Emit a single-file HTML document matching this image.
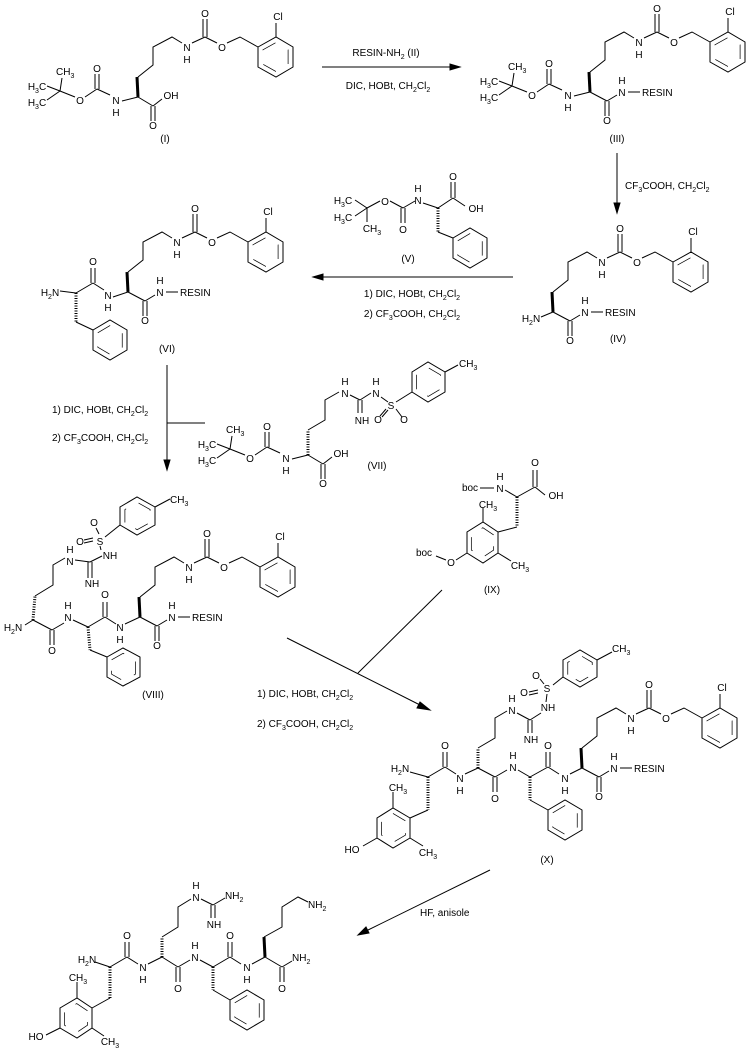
<!DOCTYPE html>
<html><head><meta charset="utf-8"><style>
html,body{margin:0;padding:0;background:#fff;}
svg{display:block}
svg path,svg polygon,svg line{stroke:#000;fill:none;stroke-width:1}
svg text{font-family:"Liberation Sans",sans-serif;font-size:10px;fill:#000;stroke:none;text-anchor:middle}
svg text.s{text-anchor:start}
.h{stroke-dasharray:1 1.5;stroke-width:3}
.w{stroke-width:3}
.in{stroke-dasharray:20 20}
.ah{fill:#000}
</style></head><body>
<svg width="754" height="1051" viewBox="0 0 754 1051" xmlns="http://www.w3.org/2000/svg">

<!-- ===== (I) ===== -->
<g transform="translate(138,97)">
 <path class="w" d="M0,0L-1,-20"/>
 <path d="M0,-20L15,-32L15,-50L34,-60L44,-54M54,-54L67,-60M65,-60V-78M69,-60V-78M67,-60L79,-54M89,-54L102,-60L120,-50M138,-60V-74"/>
 <polygon points="120,-50 138,-60 155,-50 155,-30 138,-20 120,-30"/>
 <polygon class="in" points="120,-50 138,-60 155,-50 155,-30 138,-20 120,-30" transform="translate(137.5,-40) scale(.72) translate(-137.5,40)"/>
 <text x="49" y="-46">N</text><text x="49" y="-34">H</text><text x="67" y="-80">O</text><text x="84" y="-46">O</text><text x="140" y="-77">Cl</text>
 <!-- boc -->
 <path d="M0,0L-16,4M-28,-2L-41,-8M-43,-8V-23M-39,-8V-23M-41,-8L-53,0M-63,0L-78,-6L-76,-19M-78,-6L-91,-11M-78,-6L-91,3"/>
 <text x="-22" y="7">N</text><text x="-22" y="19">H</text><text x="-41" y="-25">O</text><text x="-58" y="7">O</text>
 <text class="s" x="-82" y="-22">CH<tspan font-size="7" dy="3">3</tspan></text>
 <text x="-101" y="-7">H<tspan font-size="7" dy="3">3</tspan><tspan dy="-3">C</tspan></text>
 <text x="-101" y="9">H<tspan font-size="7" dy="3">3</tspan><tspan dy="-3">C</tspan></text>
 <!-- COOH -->
 <path d="M0,0L15,9M13,9V24M17,9V24M15,9L24,2"/>
 <text x="15" y="32">O</text><text x="33" y="2">OH</text>
</g>
<text x="165" y="142">(I)</text>

<!-- arrow I->III -->
<path d="M322,67H452"/><polygon class="ah" points="460,67 450,64 450,70"/>
<text x="386" y="56">RESIN-NH<tspan font-size="7" dy="3">2</tspan><tspan dy="-3"> (II)</tspan></text>
<text x="388" y="89">DIC, HOBt, CH<tspan font-size="7" dy="3">2</tspan><tspan dy="-3">Cl</tspan><tspan font-size="7" dy="3">2</tspan></text>

<!-- ===== (III) ===== -->
<g transform="translate(590,92)">
 <path class="w" d="M0,0L-1,-20"/>
 <path d="M0,-20L15,-32L15,-50L34,-60L44,-54M54,-54L67,-60M65,-60V-78M69,-60V-78M67,-60L79,-54M89,-54L102,-60L120,-50M138,-60V-74"/>
 <polygon points="120,-50 138,-60 155,-50 155,-30 138,-20 120,-30"/>
 <polygon class="in" points="120,-50 138,-60 155,-50 155,-30 138,-20 120,-30" transform="translate(137.5,-40) scale(.72) translate(-137.5,40)"/>
 <text x="49" y="-46">N</text><text x="49" y="-34">H</text><text x="67" y="-80">O</text><text x="84" y="-46">O</text><text x="140" y="-77">Cl</text>
 <path d="M0,0L-16,4M-28,-2L-41,-8M-43,-8V-23M-39,-8V-23M-41,-8L-53,0M-63,0L-78,-6L-76,-19M-78,-6L-91,-11M-78,-6L-91,3"/>
 <text x="-22" y="7">N</text><text x="-22" y="19">H</text><text x="-41" y="-25">O</text><text x="-58" y="7">O</text>
 <text class="s" x="-82" y="-22">CH<tspan font-size="7" dy="3">3</tspan></text>
 <text x="-101" y="-7">H<tspan font-size="7" dy="3">3</tspan><tspan dy="-3">C</tspan></text>
 <text x="-101" y="9">H<tspan font-size="7" dy="3">3</tspan><tspan dy="-3">C</tspan></text>
 <path d="M0,0L17,9M15,9V24M19,9V24M17,9L27,3M38,0H50"/>
 <text x="17" y="32">O</text><text x="32" y="4">N</text><text x="32" y="-8">H</text>
 <text class="s" x="52" y="4">RESIN</text>
</g>
<text x="617" y="142">(III)</text>

<!-- arrow III->IV -->
<path d="M617,153V205"/><polygon class="ah" points="617,213 614,203 620,203"/>
<text class="s" x="625" y="189">CF<tspan font-size="7" dy="3">3</tspan><tspan dy="-3">COOH, CH</tspan><tspan font-size="7" dy="3">2</tspan><tspan dy="-3">Cl</tspan><tspan font-size="7" dy="3">2</tspan></text>

<!-- ===== (IV) ===== -->
<g transform="translate(553,312)">
 <path class="w" d="M0,0L-1,-20"/>
 <path d="M0,-20L15,-32L15,-50L34,-60L44,-54M54,-54L67,-60M65,-60V-78M69,-60V-78M67,-60L79,-54M89,-54L102,-60L120,-50M138,-60V-74"/>
 <polygon points="120,-50 138,-60 155,-50 155,-30 138,-20 120,-30"/>
 <polygon class="in" points="120,-50 138,-60 155,-50 155,-30 138,-20 120,-30" transform="translate(137.5,-40) scale(.72) translate(-137.5,40)"/>
 <text x="49" y="-46">N</text><text x="49" y="-34">H</text><text x="67" y="-80">O</text><text x="84" y="-46">O</text><text x="140" y="-77">Cl</text>
 <path d="M0,0L-12,5M0,0L17,9M15,9V24M19,9V24M17,9L27,3M38,0H50"/>
 <text x="17" y="32">O</text><text x="32" y="4">N</text><text x="32" y="-8">H</text>
 <text class="s" x="52" y="4">RESIN</text>
 <text x="-22" y="10">H<tspan font-size="7" dy="3">2</tspan><tspan dy="-3">N</tspan></text>
</g>
<text x="618" y="342">(IV)</text>

<!-- ===== (V) ===== -->
<path d="M367,208L355,200M367,208L355,216M367,208V222M367,208L380,201M390,201L403,208M401,208V223M405,208V223M403,208L415,201M423,203L438,208M438,208L453,198M451,198V182M455,198V182M453,198L465,206M438,232L453,238"/>
<path class="h" d="M438,208V232"/>
<polygon points="453,238 470,228 487,238 487,258 470,268 453,258"/>
<polygon class="in" points="453,238 470,228 487,238 487,258 470,268 453,258" transform="translate(470,248) scale(.72) translate(-470,-248)"/>
<text x="343" y="204">H<tspan font-size="7" dy="3">3</tspan><tspan dy="-3">C</tspan></text>
<text x="343" y="221">H<tspan font-size="7" dy="3">3</tspan><tspan dy="-3">C</tspan></text>
<text x="372" y="232">CH<tspan font-size="7" dy="3">3</tspan></text>
<text x="385" y="205">O</text><text x="403" y="233">O</text><text x="418" y="204">N</text><text x="418" y="192">H</text>
<text x="453" y="180">O</text><text x="476" y="212">OH</text>
<text x="408" y="262">(V)</text>

<!-- arrow IV->VI -->
<path d="M321,277H513"/><polygon class="ah" points="313,277 323,274 323,280"/>
<text x="412" y="297">1) DIC, HOBt, CH<tspan font-size="7" dy="3">2</tspan><tspan dy="-3">Cl</tspan><tspan font-size="7" dy="3">2</tspan></text>
<text x="412" y="317">2) CF<tspan font-size="7" dy="3">3</tspan><tspan dy="-3">COOH, CH</tspan><tspan font-size="7" dy="3">2</tspan><tspan dy="-3">Cl</tspan><tspan font-size="7" dy="3">2</tspan></text>

<!-- ===== (VI) ===== -->
<g transform="translate(128,292)">
 <path class="w" d="M0,0L-1,-20"/>
 <path d="M0,-20L15,-32L15,-50L34,-60L44,-54M54,-54L67,-60M65,-60V-78M69,-60V-78M67,-60L79,-54M89,-54L102,-60L120,-50M138,-60V-74"/>
 <polygon points="120,-50 138,-60 155,-50 155,-30 138,-20 120,-30"/>
 <polygon class="in" points="120,-50 138,-60 155,-50 155,-30 138,-20 120,-30" transform="translate(137.5,-40) scale(.72) translate(-137.5,40)"/>
 <text x="49" y="-46">N</text><text x="49" y="-34">H</text><text x="67" y="-80">O</text><text x="84" y="-46">O</text><text x="140" y="-77">Cl</text>
 <path d="M0,0L17,9M15,9V24M19,9V24M17,9L27,3M38,0H50"/>
 <text x="17" y="32">O</text><text x="32" y="4">N</text><text x="32" y="-8">H</text>
 <text class="s" x="52" y="4">RESIN</text>
</g>
<path d="M60,291L76,293M76,293L93,283M91,283V268M95,283V268M93,283L104,290M113,297L128,292M76,322L93,330"/>
<path class="h" d="M76,293V322"/>
<polygon points="93,330 110,320 127,330 127,350 110,360 93,350"/>
<polygon class="in" points="93,330 110,320 127,330 127,350 110,360 93,350" transform="translate(110,340) scale(.72) translate(-110,-340)"/>
<text x="50" y="296">H<tspan font-size="7" dy="3">2</tspan><tspan dy="-3">N</tspan></text>
<text x="93" y="265">O</text><text x="108" y="299">N</text><text x="108" y="311">H</text>
<text x="167" y="352">(VI)</text>

<!-- arrow VI->VIII -->
<path d="M167,365V462M167,423H205"/><polygon class="ah" points="167,470 164,460 170,460"/>
<text class="s" x="52" y="413">1) DIC, HOBt, CH<tspan font-size="7" dy="3">2</tspan><tspan dy="-3">Cl</tspan><tspan font-size="7" dy="3">2</tspan></text>
<text class="s" x="52" y="441">2) CF<tspan font-size="7" dy="3">3</tspan><tspan dy="-3">COOH, CH</tspan><tspan font-size="7" dy="3">2</tspan><tspan dy="-3">Cl</tspan><tspan font-size="7" dy="3">2</tspan></text>

<!-- ===== (VII) ===== -->
<g transform="translate(308,455)">
 <path d="M0,0L-16,4M-28,-2L-41,-8M-43,-8V-23M-39,-8V-23M-41,-8L-53,0M-63,0L-78,-6L-76,-19M-78,-6L-91,-11M-78,-6L-91,3"/>
 <text x="-22" y="7">N</text><text x="-22" y="19">H</text><text x="-41" y="-25">O</text><text x="-58" y="7">O</text>
 <text class="s" x="-82" y="-22">CH<tspan font-size="7" dy="3">3</tspan></text>
 <text x="-101" y="-7">H<tspan font-size="7" dy="3">3</tspan><tspan dy="-3">C</tspan></text>
 <text x="-101" y="9">H<tspan font-size="7" dy="3">3</tspan><tspan dy="-3">C</tspan></text>
 <path d="M0,0L15,9M13,9V24M17,9V24M15,9L24,2"/>
 <text x="15" y="32">O</text><text x="33" y="2">OH</text>
 <path class="h" d="M0,0V-25"/>
 <path d="M0,-25L17,-35L17,-55L31,-63M42,-60L52,-55M50,-55V-42M54,-55V-42M52,-55L63,-62M73,-58L80,-53M78,-46L72,-39M80,-45L74,-38M88,-46L94,-38M88,-53L104,-63M137,-83L150,-90"/>
 <text x="37" y="-58">N</text><text x="37" y="-70">H</text>
 <text x="54" y="-31">NH</text>
 <text x="68" y="-58">N</text><text x="68" y="-70">H</text>
 <text x="83" y="-46">S</text><text x="70" y="-32">O</text><text x="96" y="-32">O</text>
 <polygon points="104,-63 104,-83 120,-93 137,-83 137,-63 120,-53"/>
 <polygon class="in" points="104,-63 104,-83 120,-93 137,-83 137,-63 120,-53" transform="translate(120.5,-73) scale(.72) translate(-120.5,73)"/>
 <text class="s" x="151" y="-88">CH<tspan font-size="7" dy="3">3</tspan></text>
</g>
<text x="377" y="469">(VII)</text>

<!-- ===== (IX) ===== -->
<path d="M480,488H494M505,490L517,497M517,497L535,487M533,487V470M537,487V470M535,487L545,495M517,527L498,532M483,522V508M498,553L511,561M467,553L456,560M446,560L436,556"/>
<path class="h" d="M517,497V527"/>
<polygon points="498,532 483,522 467,532 467,553 483,563 498,553"/>
<polygon class="in" points="498,532 483,522 467,532 467,553 483,563 498,553" transform="translate(482.5,542.5) scale(.72) translate(-482.5,-542.5)"/>
<text x="470" y="491">boc</text><text x="500" y="492">N</text><text x="500" y="480">H</text>
<text x="535" y="466">O</text><text x="556" y="499">OH</text>
<text x="488" y="508">CH<tspan font-size="7" dy="3">3</tspan></text>
<text x="520" y="569">CH<tspan font-size="7" dy="3">3</tspan></text>
<text x="451" y="566">O</text><text x="424" y="556">boc</text>
<text x="492" y="593">(IX)</text>

<!-- ===== (VIII) ===== -->
<g transform="translate(140,617)">
 <path class="w" d="M0,0L-1,-20"/>
 <path d="M0,-20L15,-32L15,-50L34,-60L44,-54M54,-54L67,-60M65,-60V-78M69,-60V-78M67,-60L79,-54M89,-54L102,-60L120,-50M138,-60V-74"/>
 <polygon points="120,-50 138,-60 155,-50 155,-30 138,-20 120,-30"/>
 <polygon class="in" points="120,-50 138,-60 155,-50 155,-30 138,-20 120,-30" transform="translate(137.5,-40) scale(.72) translate(-137.5,40)"/>
 <text x="49" y="-46">N</text><text x="49" y="-34">H</text><text x="67" y="-80">O</text><text x="84" y="-46">O</text><text x="140" y="-77">Cl</text>
 <path d="M0,0L17,9M15,9V24M19,9V24M17,9L27,3M38,0H50"/>
 <text x="17" y="32">O</text><text x="32" y="4">N</text><text x="32" y="-8">H</text>
 <text class="s" x="52" y="4">RESIN</text>
</g>
<path d="M25,625L33,620M33,620L52,630M50,630V645M54,630V645M52,630L64,623M73,620L88,627M88,627L105,617M103,617V602M107,617V602M105,617L116,624M125,624L140,617M90,650L107,657"/>
<path class="h" d="M88,627L90,650M33,620L35,596"/>
<polygon points="107,657 123,648 140,657 140,677 123,686 107,677"/>
<polygon class="in" points="107,657 123,648 140,657 140,677 123,686 107,677" transform="translate(123.5,667) scale(.72) translate(-123.5,-667)"/>
<path d="M35,596L53,585L53,565L65,558M75,560L90,562M88,562V578M92,562V578M90,562L102,556M101,550L100,546M93,538L84,540M93,541L84,543M99,534L96,528M105,537L120,525M155,507L170,499"/>
<polygon points="120,525 120,507 137,497 155,507 155,525 137,535"/>
<polygon class="in" points="120,525 120,507 137,497 155,507 155,525 137,535" transform="translate(137.5,516) scale(.72) translate(-137.5,-516)"/>
<text x="13" y="631">H<tspan font-size="7" dy="3">2</tspan><tspan dy="-3">N</tspan></text>
<text x="52" y="654">O</text><text x="68" y="621">N</text><text x="68" y="609">H</text>
<text x="105" y="598">O</text><text x="120" y="631">N</text><text x="120" y="643">H</text>
<text x="70" y="565">N</text><text x="70" y="553">H</text>
<text x="92" y="587">NH</text><text x="110" y="559">NH</text>
<text x="100" y="545">S</text><text x="80" y="545">O</text><text x="94" y="526">O</text>
<text class="s" x="170" y="503">CH<tspan font-size="7" dy="3">3</tspan></text>
<text x="153" y="698">(VIII)</text>

<!-- arrow VIII+IX -> X -->
<path d="M287,638L422,706M358,673L442,590"/><polygon class="ah" points="430,710 420,702 417,708"/>
<text class="s" x="257" y="697">1) DIC, HOBt, CH<tspan font-size="7" dy="3">2</tspan><tspan dy="-3">Cl</tspan><tspan font-size="7" dy="3">2</tspan></text>
<text class="s" x="257" y="727">2) CF<tspan font-size="7" dy="3">3</tspan><tspan dy="-3">COOH, CH</tspan><tspan font-size="7" dy="3">2</tspan><tspan dy="-3">Cl</tspan><tspan font-size="7" dy="3">2</tspan></text>

<!-- ===== (X) ===== -->
<g transform="translate(582,768)">
 <path class="w" d="M0,0L-1,-20"/>
 <path d="M0,-20L15,-32L15,-50L34,-60L44,-54M54,-54L67,-60M65,-60V-78M69,-60V-78M67,-60L79,-54M89,-54L102,-60L120,-50M138,-60V-74"/>
 <polygon points="120,-50 138,-60 155,-50 155,-30 138,-20 120,-30"/>
 <polygon class="in" points="120,-50 138,-60 155,-50 155,-30 138,-20 120,-30" transform="translate(137.5,-40) scale(.72) translate(-137.5,40)"/>
 <text x="49" y="-46">N</text><text x="49" y="-34">H</text><text x="67" y="-80">O</text><text x="84" y="-46">O</text><text x="140" y="-77">Cl</text>
 <path d="M0,0L17,9M15,9V24M19,9V24M17,9L27,3M38,0H50"/>
 <text x="17" y="32">O</text><text x="32" y="4">N</text><text x="32" y="-8">H</text>
 <text class="s" x="52" y="4">RESIN</text>
</g>
<path d="M410,772L428,777M428,777L445,767M443,767V752M447,767V752M445,767L456,774M465,774L478,768M478,768L495,777M493,777V792M497,777V792M495,777L507,770M518,770L530,777M530,777L548,767M546,767V752M550,767V752M548,767L559,774M570,774L582,768M530,800L548,810M428,810L410,818M393,808V792M410,838L423,846M377,838L363,846"/>
<path class="h" d="M530,777V800M428,777V810M478,768V748"/>
<polygon points="548,810 565,800 582,810 582,830 565,840 548,830"/>
<polygon class="in" points="548,810 565,800 582,810 582,830 565,840 548,830" transform="translate(565,820) scale(.72) translate(-565,-820)"/>
<polygon points="410,818 393,808 377,818 377,838 393,848 410,838"/>
<polygon class="in" points="410,818 393,808 377,818 377,838 393,848 410,838" transform="translate(393.5,828) scale(.72) translate(-393.5,-828)"/>
<path d="M478,748L495,738L495,718L507,711M517,713L530,720M528,720V733M532,720V733M530,720L541,713M546,702L547,694M538,690L529,692M538,693L529,695M544,684L540,679M553,685L563,677M597,660L612,652"/>
<polygon points="563,677 563,660 580,650 597,660 597,677 580,687"/>
<polygon class="in" points="563,677 563,660 580,650 597,660 597,677 580,687" transform="translate(580,668.5) scale(.72) translate(-580,-668.5)"/>
<text x="400" y="772">H<tspan font-size="7" dy="3">2</tspan><tspan dy="-3">N</tspan></text>
<text x="445" y="749">O</text><text x="460" y="782">N</text><text x="460" y="794">H</text>
<text x="495" y="802">O</text><text x="513" y="771">N</text><text x="513" y="759">H</text>
<text x="548" y="749">O</text><text x="565" y="782">N</text><text x="565" y="794">H</text>
<text x="512" y="714">N</text><text x="512" y="702">H</text>
<text x="531" y="743">NH</text><text x="548" y="711">NH</text>
<text x="547" y="692">S</text><text x="524" y="696">O</text><text x="536" y="679">O</text>
<text class="s" x="612" y="652">CH<tspan font-size="7" dy="3">3</tspan></text>
<text x="398" y="791">CH<tspan font-size="7" dy="3">3</tspan></text>
<text x="428" y="856">CH<tspan font-size="7" dy="3">3</tspan></text>
<text x="352" y="853">HO</text>
<text x="547" y="863">(X)</text>

<!-- arrow X -> final -->
<path d="M490,870L366,931"/><polygon class="ah" points="358,935 366,927 369,933"/>
<text class="s" x="420" y="916">HF, anisole</text>

<!-- ===== final product ===== -->
<path d="M95,962L110,967M110,967L127,957M125,957V942M129,957V942M127,957L138,964M148,964L162,957M162,957L178,967M176,967V982M180,967V982M178,967L190,960M200,960L213,967M213,967L230,957M228,957V942M232,957V942M230,957L241,964M252,964L265,957M265,957L282,967M280,967V982M284,967V982M282,967L292,961M213,990L230,1000M110,998L92,1008M77,998V982M92,1028L104,1036M60,1028L46,1035"/>
<path class="h" d="M213,967V990M110,967V998M162,957V937"/>
<path class="w" d="M265,957L264,937"/>
<path d="M264,937L282,927L282,907L298,897L308,902M162,937L178,927L178,907L191,899M201,899L213,905M211,905V918M215,905V918M213,905L225,898"/>
<polygon points="230,1000 247,990 264,1000 264,1020 247,1030 230,1020"/>
<polygon class="in" points="230,1000 247,990 264,1000 264,1020 247,1030 230,1020" transform="translate(247,1010) scale(.72) translate(-247,-1010)"/>
<polygon points="92,1008 77,998 60,1008 60,1028 77,1038 92,1028"/>
<polygon class="in" points="92,1008 77,998 60,1008 60,1028 77,1038 92,1028" transform="translate(76,1018) scale(.72) translate(-76,-1018)"/>
<text x="87" y="963">H<tspan font-size="7" dy="3">2</tspan><tspan dy="-3">N</tspan></text>
<text x="127" y="939">O</text><text x="143" y="971">N</text><text x="143" y="983">H</text>
<text x="178" y="992">O</text><text x="195" y="961">N</text><text x="195" y="949">H</text>
<text x="230" y="939">O</text><text x="247" y="971">N</text><text x="247" y="983">H</text>
<text x="282" y="992">O</text><text class="s" x="292" y="961">NH<tspan font-size="7" dy="3">2</tspan></text>
<text x="196" y="901">N</text><text x="196" y="889">H</text>
<text class="s" x="225" y="899">NH<tspan font-size="7" dy="3">2</tspan></text>
<text x="214" y="928">NH</text>
<text class="s" x="308" y="908">NH<tspan font-size="7" dy="3">2</tspan></text>
<text x="78" y="981">CH<tspan font-size="7" dy="3">3</tspan></text>
<text x="110" y="1045">CH<tspan font-size="7" dy="3">3</tspan></text>
<text x="36" y="1040">HO</text>
</svg>
</body></html>
